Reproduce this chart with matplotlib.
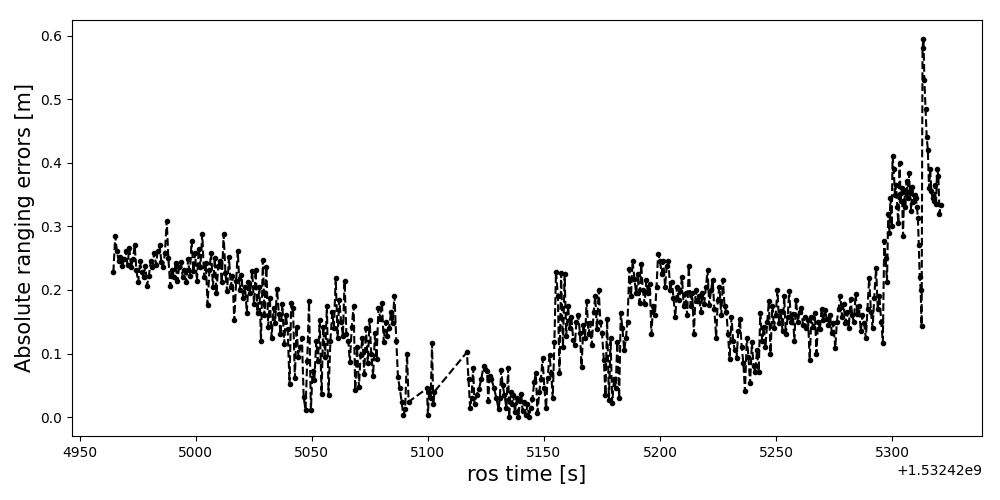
"""
Absolute ranging errors over ros time (values read off the reference plot).
Out: out.png
"""
import matplotlib
matplotlib.use("Agg")
import matplotlib.pyplot as plt
import numpy as np

T0 = 1.53242e9  # ros time base

# --- early plateau, ~0.24 m
t_a = [4964.5, 4965.3, 4966.0, 4966.8, 4967.5, 4968.3, 4969.1, 4969.8, 4970.6, 4971.4,
       4972.1, 4972.9, 4973.7, 4974.4, 4975.2, 4976.0, 4976.7, 4977.5, 4978.3, 4979.0,
       4979.8, 4980.6, 4981.3, 4982.1, 4982.9, 4983.6, 4984.4, 4985.2, 4985.9, 4986.7,
       4987.5, 4988.2, 4989.0, 4989.8, 4990.5, 4991.3, 4992.1, 4992.8, 4993.6, 4994.4,
       4995.1, 4995.9, 4996.7, 4997.4, 4998.2, 4999.0, 4999.7, 5000.5, 5001.3, 5002.0,
       5002.8, 5003.6, 5004.3, 5005.1, 5005.9, 5006.6, 5007.4, 5008.2, 5008.9, 5009.7,
       5010.5, 5011.2, 5012.0, 5012.8, 5013.5, 5014.3, 5015.1, 5015.8, 5016.6, 5017.4,
       5018.1, 5018.9, 5019.7, 5020.4, 5021.2, 5022.0, 5022.7, 5023.5, 5024.3]
e_a = [0.228, 0.285, 0.262, 0.245, 0.252, 0.238, 0.248, 0.262, 0.240, 0.266,
       0.236, 0.248, 0.270, 0.232, 0.212, 0.245, 0.228, 0.221, 0.238, 0.207,
       0.222, 0.246, 0.236, 0.258, 0.240, 0.262, 0.270, 0.244, 0.236, 0.258,
       0.309, 0.250, 0.206, 0.232, 0.221, 0.242, 0.214, 0.236, 0.244, 0.220,
       0.232, 0.212, 0.248, 0.222, 0.277, 0.230, 0.258, 0.214, 0.264, 0.236,
       0.288, 0.220, 0.242, 0.177, 0.232, 0.258, 0.205, 0.250, 0.195, 0.238,
       0.246, 0.212, 0.288, 0.226, 0.198, 0.252, 0.205, 0.222, 0.152, 0.214,
       0.262, 0.200, 0.224, 0.188, 0.205, 0.164, 0.212, 0.196, 0.230]

# --- drop towards zero
t_b = [5025.1, 5025.8, 5026.6, 5027.4, 5028.1, 5028.9, 5029.6, 5030.4, 5031.2, 5031.9,
       5032.7, 5033.5, 5034.2, 5035.0, 5035.8, 5036.5, 5037.3, 5038.1, 5038.8, 5039.6,
       5040.4, 5041.1, 5041.9, 5042.7, 5043.4, 5044.2, 5045.0, 5045.7, 5046.5, 5047.3,
       5048.0, 5048.8, 5049.6, 5050.3, 5051.1, 5051.9, 5052.6, 5053.4, 5054.2, 5054.9,
       5055.7, 5056.5, 5057.2, 5058.0, 5058.8, 5059.5, 5060.3, 5061.1, 5061.8, 5062.6,
       5063.4, 5064.1, 5064.9, 5065.7, 5066.4, 5067.2, 5068.0, 5068.7, 5069.5, 5070.3,
       5071.0, 5071.8, 5072.6, 5073.3, 5074.1, 5074.9, 5075.6, 5076.4, 5077.2, 5077.9,
       5078.7, 5079.5, 5080.2, 5081.0, 5081.8, 5082.5, 5083.3, 5084.1, 5084.8, 5085.6,
       5086.4, 5087.1, 5087.9, 5088.7, 5089.4, 5090.2, 5091.0, 5091.7]
e_b = [0.178, 0.232, 0.164, 0.205, 0.119, 0.247, 0.160, 0.236, 0.142, 0.188,
       0.125, 0.172, 0.148, 0.202, 0.162, 0.130, 0.178, 0.115, 0.160, 0.138,
       0.052, 0.179, 0.171, 0.061, 0.142, 0.095, 0.110, 0.125, 0.031, 0.011,
       0.088, 0.182, 0.011, 0.072, 0.058, 0.120, 0.088, 0.152, 0.037, 0.142,
       0.095, 0.175, 0.035, 0.120, 0.165, 0.140, 0.219, 0.125, 0.185, 0.150,
       0.128, 0.214, 0.130, 0.120, 0.086, 0.142, 0.175, 0.042, 0.110, 0.047,
       0.098, 0.125, 0.068, 0.140, 0.085, 0.153, 0.100, 0.064, 0.132, 0.092,
       0.172, 0.155, 0.180, 0.118, 0.150, 0.128, 0.140, 0.165, 0.148, 0.191,
       0.120, 0.063, 0.045, 0.024, 0.003, 0.012, 0.100, 0.024]

# --- sparse low stretch (with gaps)
t_c = [5099.6, 5100.0, 5100.5, 5101.2, 5101.8, 5102.3, 5102.8, 5116.8, 5117.5, 5118.2,
       5118.8, 5119.5, 5120.1, 5121.0, 5122.0, 5123.0, 5124.0, 5124.8, 5125.5, 5126.0,
       5126.6, 5127.4, 5128.5, 5129.5, 5130.5, 5131.0, 5131.6, 5132.2, 5133.0, 5133.8,
       5134.6, 5135.0, 5135.6, 5136.2, 5136.8, 5137.5, 5138.2, 5139.0, 5139.6, 5140.2,
       5140.8, 5141.5, 5142.2, 5142.9, 5143.6, 5144.3]
e_c = [0.045, 0.003, 0.040, 0.030, 0.116, 0.020, 0.040, 0.102, 0.060, 0.014,
       0.030, 0.077, 0.020, 0.035, 0.044, 0.060, 0.080, 0.076, 0.072, 0.025,
       0.065, 0.060, 0.045, 0.030, 0.012, 0.030, 0.074, 0.050, 0.035, 0.015,
       0.077, 0.000, 0.040, 0.020, 0.035, 0.008, 0.030, 0.000, 0.025, 0.037,
       0.010, 0.024, 0.003, 0.020, 0.000, 0.015]

# --- climb back up
t_d = [5145.0, 5145.8, 5146.5, 5147.2, 5148.0, 5148.7, 5149.4, 5150.2, 5150.9, 5151.6,
       5152.4, 5153.1, 5153.8, 5154.5, 5155.2, 5156.0, 5156.7, 5157.4, 5158.2, 5158.9,
       5159.6, 5160.4, 5161.1, 5161.8, 5162.6, 5163.3, 5164.0, 5164.8, 5165.5, 5166.2,
       5167.0, 5167.7, 5168.4, 5169.2, 5169.9, 5170.6, 5171.4, 5172.1, 5172.8, 5173.6,
       5174.3, 5175.0, 5175.8, 5176.5, 5177.2, 5178.0, 5178.7, 5179.4, 5180.2, 5180.9,
       5181.6, 5182.4, 5183.1, 5183.8, 5184.6, 5185.3, 5186.0, 5186.8, 5187.5, 5188.2,
       5189.0, 5189.7, 5190.4, 5191.2, 5191.9, 5192.6, 5193.4, 5194.1, 5194.8, 5195.6,
       5196.3, 5197.0, 5197.8, 5198.5, 5199.2, 5200.0]
e_d = [0.028, 0.055, 0.069, 0.007, 0.040, 0.060, 0.093, 0.045, 0.014, 0.062,
       0.098, 0.070, 0.030, 0.118, 0.229, 0.190, 0.069, 0.226, 0.110, 0.225,
       0.128, 0.175, 0.140, 0.158, 0.122, 0.113, 0.150, 0.160, 0.132, 0.079,
       0.145, 0.125, 0.182, 0.130, 0.148, 0.113, 0.165, 0.190, 0.138, 0.200,
       0.150, 0.132, 0.090, 0.035, 0.155, 0.027, 0.124, 0.022, 0.060, 0.045,
       0.118, 0.030, 0.163, 0.140, 0.105, 0.124, 0.150, 0.233, 0.190, 0.246,
       0.217, 0.195, 0.225, 0.180, 0.241, 0.200, 0.178, 0.215, 0.195, 0.210,
       0.130, 0.175, 0.160, 0.205, 0.257, 0.246]

# --- middle wave
t_e = [5200.7, 5201.4, 5202.2, 5202.9, 5203.6, 5204.4, 5205.1, 5205.8, 5206.6, 5207.3,
       5208.0, 5208.8, 5209.5, 5210.2, 5211.0, 5211.7, 5212.4, 5213.2, 5213.9, 5214.6,
       5215.4, 5216.1, 5216.8, 5217.6, 5218.3, 5219.0, 5219.8, 5220.5, 5221.2, 5222.0,
       5222.7, 5223.4, 5224.2, 5224.9, 5225.6, 5226.4, 5227.1, 5227.8, 5228.6, 5229.3,
       5230.0, 5230.8, 5231.5, 5232.2, 5233.0, 5233.7, 5234.4, 5235.2, 5235.9, 5236.6,
       5237.4, 5238.1, 5238.8, 5239.6, 5240.3, 5241.0, 5241.8, 5242.5, 5243.2, 5244.0,
       5244.7, 5245.4, 5246.2, 5246.9, 5247.6, 5248.4, 5249.1, 5249.8, 5250.6, 5251.3,
       5252.0, 5252.8, 5253.5, 5254.2, 5255.0, 5255.7, 5256.4, 5257.2, 5257.9, 5258.6,
       5259.4, 5260.1, 5260.8, 5261.6, 5262.3, 5263.0, 5263.8, 5264.5]
e_e = [0.225, 0.246, 0.205, 0.238, 0.246, 0.200, 0.212, 0.188, 0.157, 0.205,
       0.185, 0.198, 0.220, 0.175, 0.195, 0.160, 0.237, 0.175, 0.195, 0.131,
       0.200, 0.182, 0.190, 0.165, 0.196, 0.178, 0.205, 0.232, 0.176, 0.200,
       0.216, 0.170, 0.125, 0.185, 0.205, 0.160, 0.216, 0.175, 0.165, 0.130,
       0.091, 0.157, 0.120, 0.105, 0.093, 0.135, 0.155, 0.110, 0.085, 0.041,
       0.125, 0.095, 0.053, 0.118, 0.080, 0.071, 0.105, 0.071, 0.164, 0.120,
       0.142, 0.110, 0.150, 0.183, 0.100, 0.175, 0.140, 0.160, 0.200, 0.148,
       0.167, 0.135, 0.190, 0.130, 0.158, 0.199, 0.150, 0.162, 0.120, 0.184,
       0.150, 0.165, 0.172, 0.145, 0.158, 0.140, 0.152, 0.090]

# --- flat stretch before the rise
t_f = [5265.2, 5265.9, 5266.7, 5267.4, 5268.1, 5268.9, 5269.6, 5270.3, 5271.1, 5271.8,
       5272.5, 5273.3, 5274.0, 5274.7, 5275.5, 5276.2, 5276.9, 5277.7, 5278.4, 5279.1,
       5279.9, 5280.6, 5281.3, 5282.1, 5282.8, 5283.5, 5284.3, 5285.0, 5285.7, 5286.5,
       5287.2, 5287.9, 5288.7, 5289.4, 5290.1, 5290.9, 5291.6, 5292.3, 5293.1, 5293.8,
       5294.5, 5295.3, 5296.0]
e_f = [0.157, 0.142, 0.163, 0.100, 0.150, 0.138, 0.170, 0.152, 0.168, 0.155,
       0.145, 0.160, 0.133, 0.148, 0.108, 0.150, 0.170, 0.191, 0.158, 0.178,
       0.148, 0.165, 0.140, 0.186, 0.160, 0.150, 0.194, 0.162, 0.175, 0.135,
       0.160, 0.148, 0.124, 0.170, 0.219, 0.165, 0.140, 0.188, 0.235, 0.170,
       0.190, 0.150, 0.117]

# --- final rise and spike
t_g = [5296.6, 5297.2, 5297.8, 5298.3, 5298.8, 5299.3, 5299.8, 5300.2, 5300.7, 5301.2,
       5301.7, 5302.2, 5302.7, 5303.2, 5303.7, 5304.2, 5304.7, 5305.2, 5305.7, 5306.2,
       5306.7, 5307.2, 5307.7, 5308.2, 5308.7, 5309.2, 5309.7, 5310.2, 5310.7, 5311.1,
       5311.5, 5311.9, 5312.3, 5312.7, 5313.1, 5313.5, 5313.9, 5314.4, 5314.9, 5315.4,
       5315.9, 5316.4, 5316.9, 5317.4, 5317.9, 5318.4, 5318.9, 5319.4, 5319.9, 5320.4,
       5320.9]
e_g = [0.277, 0.250, 0.212, 0.320, 0.290, 0.345, 0.300, 0.410, 0.390, 0.350,
       0.365, 0.330, 0.305, 0.400, 0.340, 0.360, 0.285, 0.357, 0.330, 0.372,
       0.345, 0.384, 0.355, 0.325, 0.362, 0.338, 0.350, 0.345, 0.330, 0.313,
       0.270, 0.220, 0.200, 0.144, 0.580, 0.595, 0.530, 0.485, 0.440, 0.420,
       0.360, 0.390, 0.355, 0.345, 0.340, 0.365, 0.335, 0.390, 0.380, 0.320,
       0.333]

t = np.array(t_a + t_b + t_c + t_d + t_e + t_f + t_g) + T0
err = np.array(e_a + e_b + e_c + e_d + e_e + e_f + e_g)

fig, ax = plt.subplots(figsize=(10, 5), dpi=100)
ax.plot(t, err, "k.--")
ax.set_xlabel("ros time [s]", fontsize=15)
ax.set_ylabel("Absolute ranging errors [m]", fontsize=15)
fig.subplots_adjust(left=0.072, right=0.982, bottom=0.128, top=0.96)
fig.savefig("out.png", dpi=100, facecolor="white")
